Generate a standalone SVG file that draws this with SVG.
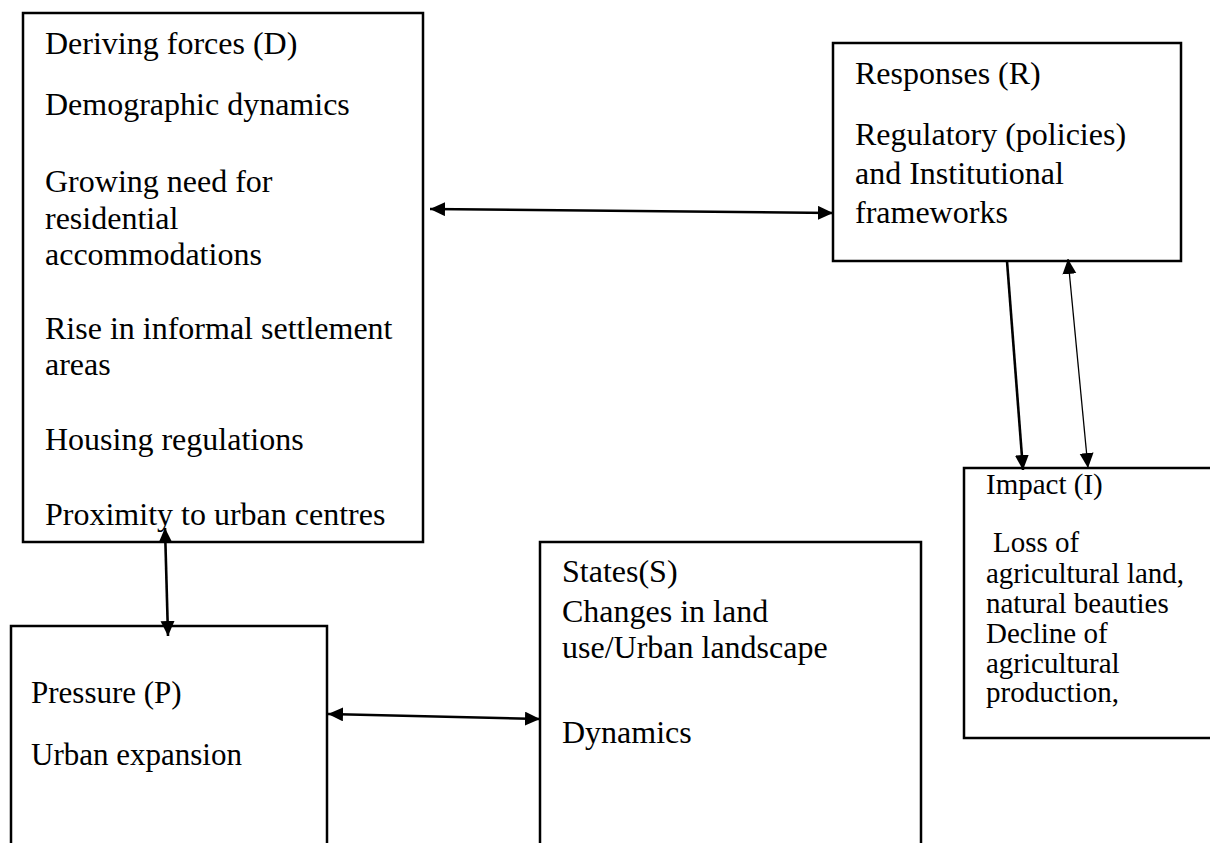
<svg xmlns="http://www.w3.org/2000/svg" width="1210" height="843" viewBox="0 0 1210 843">
<style>
.box{fill:#fff;stroke:#000;stroke-width:2.5}
.t{font-family:"Liberation Serif","Times New Roman",serif;font-size:32px;fill:#000}
.ti{font-family:"Liberation Serif","Times New Roman",serif;font-size:29px;fill:#000}
.c{stroke:#000;stroke-width:2.6;fill:none}
.thin{stroke:#000;stroke-width:1.3;fill:none}
</style>
<defs>
<marker id="ah" markerUnits="userSpaceOnUse" markerWidth="16" markerHeight="15" refX="15" refY="7" orient="auto-start-reverse">
<path d="M0,0 L15,7 L0,14 z" fill="#000"/>
</marker>
</defs>
<rect width="1210" height="843" fill="#fff"/>
<g id="node-D">
<rect class="box" x="23" y="13" width="400" height="529"/>
<text class="t" x="45" y="54">Deriving forces (D)</text>
<text class="t" x="45" y="115">Demographic dynamics</text>
<text class="t" x="45" y="192">Growing need for</text>
<text class="t" x="45" y="229">residential</text>
<text class="t" x="45" y="265">accommodations</text>
<text class="t" x="45" y="339">Rise in informal settlement</text>
<text class="t" x="45" y="375">areas</text>
<text class="t" x="45" y="450">Housing regulations</text>
<text class="t" x="45" y="525">Proximity to urban centres</text>
</g>
<g id="node-R">
<rect class="box" x="833" y="43" width="348" height="218"/>
<text class="t" x="855" y="84">Responses (R)</text>
<text class="t" x="855" y="145">Regulatory (policies)</text>
<text class="t" x="855" y="184">and Institutional</text>
<text class="t" x="855" y="223">frameworks</text>
</g>
<g id="node-I">
<rect class="box" x="964" y="468" width="260" height="270"/>
<text class="ti" x="986" y="494">Impact (I)</text>
<text class="ti" x="993" y="552">Loss of</text>
<text class="ti" x="986" y="583">agricultural land,</text>
<text class="ti" x="986" y="613">natural beauties</text>
<text class="ti" x="986" y="643">Decline of</text>
<text class="ti" x="986" y="673">agricultural</text>
<text class="ti" x="986" y="702">production,</text>
</g>
<g id="node-P">
<rect class="box" x="11" y="626" width="316" height="240"/>
<text class="t" x="31" y="703" style="font-size:31px">Pressure (P)</text>
<text class="t" x="31" y="765" style="font-size:31px">Urban expansion</text>
</g>
<g id="node-S">
<rect class="box" x="540" y="542" width="381" height="320"/>
<text class="t" x="562" y="582">States(S)</text>
<text class="t" x="562" y="622">Changes in land</text>
<text class="t" x="562" y="658">use/Urban landscape</text>
<text class="t" x="562" y="743">Dynamics</text>
</g>
<g id="connectors">
<line class="c" x1="430" y1="209" x2="833" y2="213" marker-start="url(#ah)" marker-end="url(#ah)"/>
<line class="c" x1="165" y1="528" x2="168" y2="636" marker-start="url(#ah)" marker-end="url(#ah)"/>
<line class="c" x1="328" y1="714" x2="540" y2="719" marker-start="url(#ah)" marker-end="url(#ah)"/>
<line class="c" x1="1007" y1="261" x2="1023" y2="470" marker-end="url(#ah)"/>
<line class="thin" x1="1068" y1="259" x2="1088" y2="468" marker-start="url(#ah)" marker-end="url(#ah)"/>
</g>
</svg>
